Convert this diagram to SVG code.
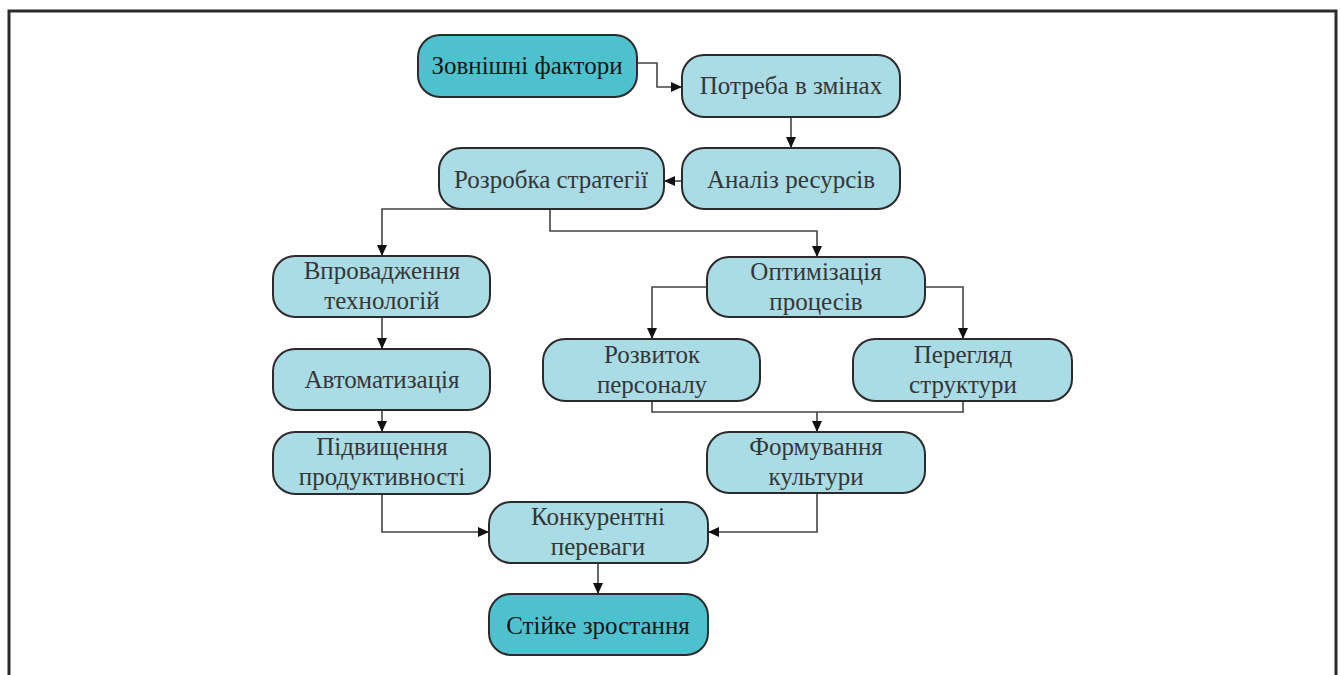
<svg xmlns="http://www.w3.org/2000/svg" width="1340" height="675" viewBox="0 0 1340 675">
<defs>
<marker id="arr" markerUnits="userSpaceOnUse" markerWidth="11" markerHeight="10" refX="11" refY="5" orient="auto">
<path d="M0,0 L11,5 L0,10 Z" fill="#111"/>
</marker>
<style>
.n rect{fill:#A9DCE5;stroke:#2b2b2b;stroke-width:2}
.d rect{fill:#4DC2CE;stroke:#2b2b2b;stroke-width:2}
text{font-family:"Liberation Serif","Times New Roman",serif;font-size:25px;fill:#363636;text-anchor:middle}
.d text{fill:#151515}
.c path{fill:none;stroke:#444;stroke-width:1.6;marker-end:url(#arr)}
.c path.nm{marker-end:none}
</style>
</defs>
<rect x="0" y="0" width="1340" height="675" fill="#fff"/>
<rect x="9" y="11" width="1327" height="720" fill="none" stroke="#2b2b2b" stroke-width="3"/>
<g id="connectors" class="c">
<path d="M637,63 H657 V87 H682"/>
<path d="M791,117 V148"/>
<path d="M682,181 H664"/>
<path d="M460,209 H382 V256"/>
<path d="M550,209 V231 H817 V257"/>
<path d="M382,317 V349"/>
<path d="M382,410 V432"/>
<path d="M707,287 H652 V339"/>
<path d="M925,287 H963 V339"/>
<path class="nm" d="M652,401 V412 H963 V401"/>
<path d="M817,412 V432"/>
<path d="M382,494 V532 H489"/>
<path d="M817,493 V532 H708"/>
<path d="M598,563 V594"/>
</g>
<g id="n1" class="d"><rect x="418" y="35" width="219" height="62" rx="22"/><text x="527" y="74">Зовнішні фактори</text></g>
<g id="n2" class="n"><rect x="682" y="55" width="218" height="62" rx="22"/><text x="791" y="94">Потреба в змінах</text></g>
<g id="n3" class="n"><rect x="682" y="148" width="218" height="61" rx="22"/><text x="791" y="188">Аналіз ресурсів</text></g>
<g id="n4" class="n"><rect x="439" y="148" width="225" height="61" rx="22"/><text x="551" y="188">Розробка стратегії</text></g>
<g id="n5" class="n"><rect x="273" y="256" width="217" height="61" rx="22"/><text x="382" y="279">Впровадження</text><text x="382" y="309">технологій</text></g>
<g id="n6" class="n"><rect x="273" y="349" width="217" height="61" rx="22"/><text x="382" y="388">Автоматизація</text></g>
<g id="n7" class="n"><rect x="273" y="432" width="217" height="62" rx="22"/><text x="382" y="455">Підвищення</text><text x="382" y="485">продуктивності</text></g>
<g id="n8" class="n"><rect x="707" y="257" width="218" height="60" rx="22"/><text x="816" y="280">Оптимізація</text><text x="816" y="310">процесів</text></g>
<g id="n9" class="n"><rect x="543" y="339" width="217" height="62" rx="22"/><text x="652" y="363">Розвиток</text><text x="652" y="393">персоналу</text></g>
<g id="n10" class="n"><rect x="853" y="339" width="219" height="62" rx="22"/><text x="963" y="363">Перегляд</text><text x="963" y="393">структури</text></g>
<g id="n11" class="n"><rect x="707" y="432" width="218" height="61" rx="22"/><text x="816" y="455">Формування</text><text x="816" y="485">культури</text></g>
<g id="n12" class="n"><rect x="489" y="502" width="219" height="61" rx="22"/><text x="598" y="525">Конкурентні</text><text x="598" y="555">переваги</text></g>
<g id="n13" class="d"><rect x="489" y="594" width="219" height="61" rx="22"/><text x="598" y="634">Стійке зростання</text></g>
</svg>
